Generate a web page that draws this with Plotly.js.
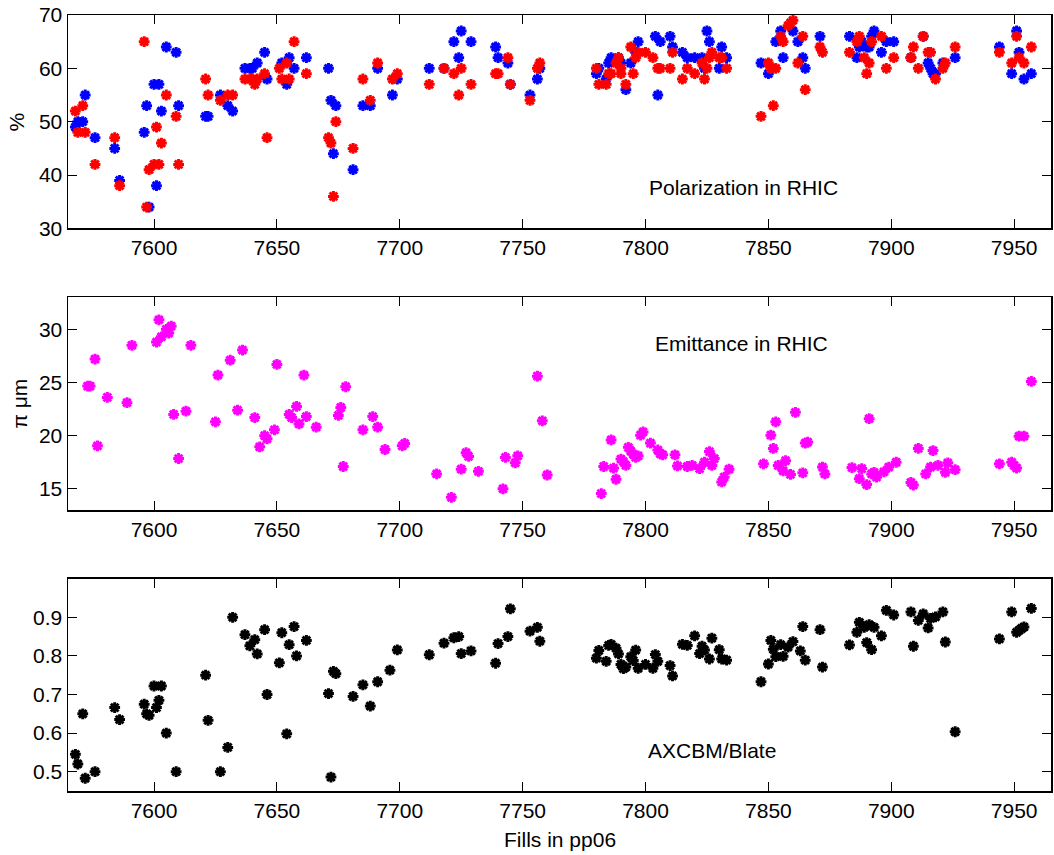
<!DOCTYPE html>
<html>
<head>
<meta charset="utf-8">
<script src="https://cdn.plot.ly/plotly-3.0.1.min.js"></script>
<style>html,body{margin:0;padding:0;background:#fff;}#chart{width:1054px;height:855px;}</style>
</head>
<body>
<div id="chart"></div>
<script>
// ---- Polarization in RHIC (blue ring) ----
var polBlueFill = [7572,7569,7571,7568,7576,7584,7586,7596,7597,7598,7601,7600,7602,7603,7605,7609,7610,7621,7622,7627,7630,7632,7637,7639,7640,7642,7645,7646,7652,7654,7655,7657,7662,
7671,7672,7674,7673,7681,7685,7688,7691,7697,7699,7712,7718,7722,7725,7729,7724,7739,7740,7744,7745,7753,7756,7757,
7780,7781,7784,7785,7786,7789,7790,7792,7794,7797,7796,7804,7806,7805,7810,7811,7815,7817,7820,7823,7825,7826,7824,7831,7830,7833,7847,7850,7853,7855,7856,7860,7862,
7864,7865,7871,7883,7886,7887,7888,7890,7891,7892,7893,7896,7898,7901,7908,7913,7915,7916,7917,7918,7921,7926,7944,7951,7952,7949,7954,7957];
var polBlue = [55,50,50,49,47,45,39,48,53,34,38,57,57,52,64,63,53,51,51,55,53,52,60,60,60,61,63,58,61,57,62,60,62,
60,54,53,44,41,53,53,60,55,58,60,60,65,67,65,62,64,62,61,57,55,58,60,
59,60,58,61,62,62,61,56,61,65,63,66,65,55,66,64,63,62,62,62,67,65,60,64,60,62,61,59,65,67,62,67,65,
62,60,66,66,62,64,65,64,64,66,67,63,65,65,62,66,61,60,59,59,61,62,64,67,63,59,58,59];
// ---- Polarization in RHIC (red ring) ----
var polRedFill = [7568,7571,7569,7572,7576,7584,7586,7596,7597,7598,7600,7602,7601,7603,7605,7609,7610,7621,7622,7627,7630,7632,7637,7639,7640,7642,7641,7645,7646,7651,7652,7655,7654,7657,7662,
7674,7671,7672,7673,7681,7685,7688,7691,7697,7699,7712,7718,7722,7725,7724,7729,7739,7740,7744,7745,7753,7756,7757,
7780,7781,7784,7785,7786,7788,7789,7790,7790,7792,7794,7795,7796,7797,7800,7803,7805,7806,7810,7811,7815,7817,7820,7823,7824,7825,7826,7827,7830,7831,7833,7847,7852,7850,7851,7853,7855,7856,7858,7859,7860,7862,
7864,7865,7871,7872,7883,7886,7887,7889,7891,7890,7892,7896,7898,7901,7908,7909,7911,7913,7915,7916,7918,7921,7922,7926,7944,7951,7952,7949,7954,7957];
var polRed = [52,53,48,48,42,47,38,65,34,41,42,42,49,46,55,51,42,58,55,54,55,55,58,58,58,58,57,59,47,60,58,58,61,65,59,
50,47,46,36,45,58,54,61,58,59,57,60,59,60,55,57,59,59,62,57,54,60,61,
60,57,57,59,59,61,62,60,59,57,64,59,62,63,63,62,60,60,60,63,58,60,59,61,58,60,62,63,62,62,60,51,53,61,60,60,66,65,68,68.5,69,61,
66,56,64,63,63,65,66,62,61,59,65,66,60,62,62,64,60,66,63,63,58,60,61,64,63,66,62,61,61,64];
// ---- Emittance in RHIC ----
var emitFill = [7573,7574,7576,7577,7581,7589,7591,7601,7603,7602,7605,7606,7607,7608,7610,7613,7615,7625,7626,7631,7634,7636,7641,7643,7645,7646,7649,7650,7655,7656,7658,7659,7661,7662,7666,7675,7676,7678,7677,7685,7689,7691,7694,
7701,7702,7715,7721,7725,7727,7728,7732,7742,7743,7747,7748,7756,7758,7760,7782,7783,7786,7787,7788,7790,7791,7792,7793,7794,7795,7796,7797,7798,7799,7802,7805,7806,7807,7812,7813,7817,7819,7822,7824,7826,7827,7828,
7831,7832,7834,7848,7851,7852,7853,7854,7856,7857,7859,7861,7864,7865,7866,7872,7873,7884,7887,7888,7890,7891,7892,7893,7894,7897,7899,7902,7908,7909,7911,7914,7916,7917,7919,7922,7923,7926,7944,7949,7950,7951,7952,7954,7957];
var emittance = [24.66,24.66,27.2,19.04,23.6,23.1,28.5,28.8,29.3,30.9,30.0,29.65,30.3,22.0,17.85,22.3,28.5,21.3,25.7,27.1,22.4,28.05,21.7,18.95,20.0,19.7,20.55,26.7,22.0,21.7,22.75,21.1,25.7,21.8,20.8,21.9,22.65,24.6,17.1,20.55,21.8,20.8,18.7,
19.04,19.27,16.4,14.2,16.85,18.4,18.05,16.65,15.0,17.95,17.45,18.1,25.6,21.4,16.3,14.55,17.1,19.6,16.95,15.9,17.8,17.55,17.2,18.9,18.55,18.25,17.95,18.1,20.05,20.35,19.3,18.65,18.3,18.2,18.2,17.15,17.1,17.2,16.9,17.5,18.5,17.2,17.85,
15.65,16.1,16.85,17.35,20.05,18.8,21.3,17.2,16.7,17.65,16.35,22.2,16.5,19.3,19.4,17.05,16.4,17.0,15.95,16.9,15.4,21.6,16.4,16.55,16.1,16.6,17.05,17.5,15.6,15.35,18.8,16.4,17.05,18.6,17.2,16.55,17.45,16.8,17.35,17.5,17.2,16.95,19.95,19.95,25.1];
// ---- AXCBM/Blate ----
var ratioFill = [7568,7569,7571,7572,7576,7584,7586,7596,7597,7598,7600,7603,7601,7602,7605,7609,7621,7622,7627,7630,7632,7637,7639,7641,7642,7645,7646,7651,7652,7654,7655,7657,7658,7662,7671,7672,7673,7674,7681,7685,7688,7691,7696,7699,
7712,7718,7722,7724,7725,7729,7739,7740,7744,7745,7753,7756,7757,
7780,7781,7784,7785,7786,7788,7789,7790,7791,7792,7794,7795,7796,7797,7800,7803,7804,7805,7810,7811,7815,7817,7820,7822,7823,7824,7826,7827,7830,7831,7833,
7847,7850,7851,7852,7853,7855,7856,7858,7860,7863,7864,7865,7871,7872,7883,7886,7887,7889,7890,7891,7892,7893,7896,7898,7901,7908,7909,7911,7913,7915,7916,7918,7921,7922,7926,7944,7949,7951,7952,7953,7954,7957];
var ratio = [0.545,0.52,0.65,0.483,0.5,0.666,0.635,0.675,0.65,0.646,0.722,0.722,0.666,0.685,0.6,0.5,0.75,0.633,0.5,0.563,0.9,0.855,0.826,0.842,0.805,0.868,0.70,0.782,0.86,0.598,0.829,0.876,0.80,0.84,0.7025,0.486,0.76,0.754,0.695,0.725,0.67,0.733,0.763,0.8155,
0.803,0.833,0.847,0.85,0.806,0.813,0.781,0.832,0.85,0.922,0.864,0.874,0.838,
0.794,0.814,0.786,0.827,0.83,0.82,0.805,0.778,0.767,0.771,0.798,0.788,0.815,0.768,0.778,0.768,0.8035,0.786,0.775,0.748,0.83,0.827,0.852,0.806,0.825,0.815,0.792,0.846,0.816,0.792,0.789,
0.733,0.779,0.84,0.817,0.798,0.829,0.799,0.823,0.837,0.813,0.876,0.789,0.868,0.771,0.8285,0.861,0.887,0.874,0.8345,0.881,0.816,0.874,0.852,0.918,0.906,0.914,0.825,0.892,0.909,0.8725,0.897,0.901,0.914,0.836,0.6035,0.844,0.914,0.861,0.866,0.871,0.875,0.923];

var xTicks = [7600,7650,7700,7750,7800,7850,7900,7950];
var labels = {pol:"Polarization in RHIC", emit:"Emittance in RHIC", ratio:"AXCBM/Blate",
  xTitle:"Fills in pp06", polY:"%", emitY:"\u03c0 \u03bcm"};

function mk(color){
  return {symbol:'asterisk-open', size:9, color:color, line:{width:3, color:color}};
}
var traces = [
  {x:polBlueFill, y:polBlue, xaxis:'x', yaxis:'y', mode:'markers', type:'scatter', marker:mk('#0000ff'), hoverinfo:'x+y'},
  {x:polRedFill, y:polRed, xaxis:'x', yaxis:'y', mode:'markers', type:'scatter', marker:mk('#ff0000'), hoverinfo:'x+y'},
  {x:emitFill, y:emittance, xaxis:'x2', yaxis:'y2', mode:'markers', type:'scatter', marker:mk('#ff00ff'), hoverinfo:'x+y'},
  {x:ratioFill, y:ratio, xaxis:'x3', yaxis:'y3', mode:'markers', type:'scatter', marker:mk('#000000'), hoverinfo:'x+y'}
];

var font = {family:'"Liberation Sans", Arial, Helvetica, sans-serif', size:21, color:'#000'};
function xax(anchor){
  return {anchor:anchor, range:[7565,7965], tickvals:xTicks, ticks:'inside', ticklen:9, tickwidth:1, tickcolor:'#000',
    showline:true, linecolor:'#000', linewidth:1.5, mirror:'ticks', showgrid:false, zeroline:false, tickfont:font};
}
function yax(anchor, dom, range, tv){
  return {anchor:anchor, domain:dom, range:range, tickvals:tv, ticks:'inside', ticklen:9, tickwidth:1, tickcolor:'#000',
    showline:true, linecolor:'#000', linewidth:1.5, mirror:'ticks', showgrid:false, zeroline:false, tickfont:font};
}
var layout = {
  width:1054, height:855, showlegend:false, font:font,
  paper_bgcolor:'#fff', plot_bgcolor:'#fff',
  margin:{l:68, r:3, t:15, b:64},
  xaxis:xax('y'), xaxis2:xax('y2'), xaxis3:xax('y3'),
  yaxis:yax('x',[0.725,1],[30,70],[30,40,50,60,70]),
  yaxis2:yax('x2',[0.362,0.636],[13,33],[15,20,25,30]),
  yaxis3:yax('x3',[0,0.2736],[0.45,1.0],[0.5,0.6,0.7,0.8,0.9]),
  annotations:[
    {text:labels.pol, xref:'x', yref:'y', x:7840, y:37.6, showarrow:false, font:font, xanchor:'center', yanchor:'middle'},
    {text:labels.emit, xref:'x2', yref:'y2', x:7839, y:28.7, showarrow:false, font:font, xanchor:'center', yanchor:'middle'},
    {text:labels.ratio, xref:'x3', yref:'y3', x:7827, y:0.554, showarrow:false, font:font, xanchor:'center', yanchor:'middle'},
    {text:labels.xTitle, xref:'paper', yref:'paper', x:0.5, y:-0.0628, showarrow:false, font:font, xanchor:'center', yanchor:'middle'},
    {text:labels.polY, xref:'paper', yref:'paper', x:-0.052, y:0.8625, textangle:-90, showarrow:false, font:font, xanchor:'center', yanchor:'middle'},
    {text:labels.emitY, xref:'paper', yref:'paper', x:-0.049, y:0.499, textangle:-90, showarrow:false, font:font, xanchor:'center', yanchor:'middle'}
  ]
};
Plotly.newPlot('chart', traces, layout, {displayModeBar:false, staticPlot:true});
</script>
</body>
</html>
